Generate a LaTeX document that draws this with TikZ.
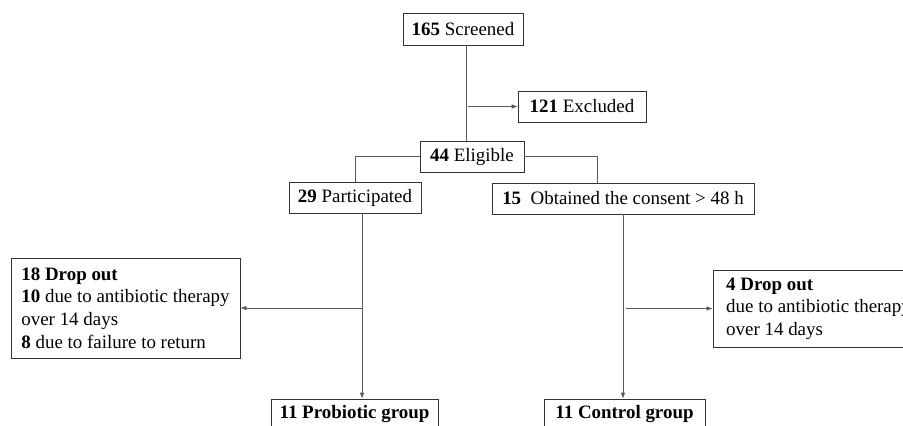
\documentclass[tikz,border=0pt]{standalone}
\usepackage{fontspec}
\setmainfont{Liberation Serif}
\usetikzlibrary{arrows.meta}

\begin{document}
\begin{tikzpicture}[x=0.75pt, y=-0.75pt,
    flowbox/.style={rectangle, draw=black!80, line width=0.6pt, inner sep=0pt,
      font=\fontsize{14.2}{17}\selectfont},
    dropbox/.style={flowbox, align=left},
    link/.style={draw=black!65, line width=0.6pt},
    >={Latex[length=4.5pt,width=3.5pt]}]
      \path[use as bounding box, clip] (0,0) rectangle (903,425);

      \node (A) [flowbox, minimum width=90pt, minimum height=24pt] at (463,29) {\textbf{165} Screened};
      \node (B) [flowbox, minimum width=96pt, minimum height=23.25pt] at (582,106.5) {\textbf{121} Excluded};
      \node (C) [flowbox, minimum width=78pt, minimum height=23.25pt] at (472,156.5) {\textbf{44} Eligible};
      \node (D) [flowbox, minimum width=99pt, minimum height=23.25pt] at (355,197.5) {\textbf{29} Participated};
      \node (E) [flowbox, minimum width=196.5pt, minimum height=23.25pt] at (623,198.5) {\textbf{15}\ \ Obtained the consent > 48 h};
      \node (F) [dropbox, minimum width=171.75pt, minimum height=75pt] at (125.5,308) {
        \textbf{18 Drop out} \\
        \textbf{10} due to antibiotic therapy \\
        over 14 days \\
        \textbf{8} due to failure to return
      };
      \node (G) [dropbox, minimum width=158.25pt, minimum height=57.75pt] at (818.5,308.5) {
        \textbf{4 Drop out} \\
        due to antibiotic therapy \\
        over 14 days
      };
      \node (H) [flowbox, minimum width=125.25pt, minimum height=23.25pt] at (354.5,414.5) {\textbf{11 Probiotic group}};
      \node (I) [flowbox, minimum width=120.75pt, minimum height=23.25pt] at (624.5,414.5) {\textbf{11 Control group}};

      \coordinate (S) at ([xshift=2.25pt]A.south);
      \coordinate (P) at ([xshift=5.25pt]D.south);
      \draw[link] (S) -- (S |- C.north);
      \draw[link, ->] ([xshift=1.5pt]S |- B.west) -- (B.west);
      \draw[link] (C.west) -| (D.north);
      \draw[link] (C.east) -| ([xshift=-19.5pt]E.north);
      \draw[link, ->] (P) -- (P |- H.north);
      \draw[link, ->] (P |- F.east) -- (F.east);
      \draw[link, ->] (E.south) -- (E.south |- I.north);
      \draw[link, ->] ([xshift=2.25pt]E.south |- G.west) -- (G.west);
    \end{tikzpicture}
\end{document}
